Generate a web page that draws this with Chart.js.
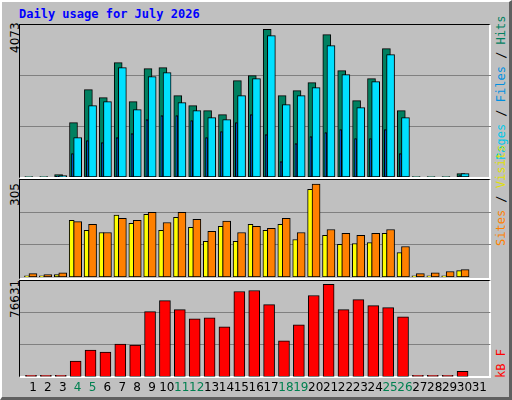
<!DOCTYPE html>
<html><head><meta charset="utf-8">
<script src="https://cdn.jsdelivr.net/npm/chart.js@4"></script>
<style>
html,body{margin:0;padding:0;background:#c0c0c0;}
#frame{position:absolute;left:0;top:0;width:512px;height:400px;box-sizing:border-box;border-top:2px solid #fff;border-left:2px solid #fff;border-right:3px solid #606060;border-bottom:3px solid #606060;background:#c0c0c0;}
.panel{position:absolute;left:19px;width:472px;box-sizing:border-box;border-top:1px solid #000;border-left:1px solid #000;border-right:2px solid #fff;border-bottom:2px solid #fff;}
canvas{position:absolute;}
.t{position:absolute;font-family:"DejaVu Sans Mono",monospace;font-size:11px;white-space:nowrap;}
.rot{transform-origin:0 0;transform:rotate(-90deg);}
</style></head><body>
<div id="frame"></div>
<div class="t" style="left:19px;top:7px;color:#0000ff;font-weight:bold;font-size:12px">Daily usage for July 2026</div>
<div class="panel" style="top:24px;height:155px"></div>
<div class="panel" style="top:179px;height:101px"></div>
<div class="panel" style="top:280px;height:98px"></div>
<div class="t rot" style="left:8px;top:53px;font-family:'DejaVu Sans';font-size:12px">4073</div>
<div class="t rot" style="left:8px;top:206px;font-family:'DejaVu Sans';font-size:12px">305</div>
<div class="t rot" style="left:8px;top:318px;font-family:'DejaVu Sans';font-size:12px">76631</div>
<div class="t rot" style="left:494px;top:160px;font-size:12px"><span style="color:#00c8e8">Pages</span><span style="color:#000"> / </span><span style="color:#0090e0">Files</span><span style="color:#000"> / </span><span style="color:#008060">Hits</span></div>
<div class="t rot" style="left:494px;top:246px;font-size:12px"><span style="color:#ff8000">Sites</span><span style="color:#000"> / </span><span style="color:#e0e000">Visits</span></div>
<div class="t rot" style="left:494px;top:378px;font-size:12px;color:#ff0000">kB F</div>
<canvas id="c1" width="471" height="152" style="left:20px;top:25px"></canvas>
<canvas id="c2" width="471" height="97" style="left:20px;top:180px"></canvas>
<canvas id="c3" width="471" height="118" style="left:20px;top:281px"></canvas>
<script>
const days=[1,2,3,4,5,6,7,8,9,10,11,12,13,14,15,16,17,18,19,20,21,22,23,24,25,26,27,28,29,30,31];
const weekend=[4,5,11,12,18,19,25,26];
const hits=[10,10,64,1500,2410,2190,3156,2080,2990,3018,2245,1969,1831,1720,2659,2797,4073,2245,2383,2604,3928,2935,2107,2714,3542,1831,10,10,10,92,0];
const pages=[0,0,40,1086,1969,2080,3018,1858,2769,2880,2052,1831,1638,1582,2245,2714,3901,1996,2245,2466,3625,2824,1914,2631,3376,1638,0,0,0,92,0];
const files=[0,0,20,644,1003,948,1086,1196,1582,1693,1693,1555,1086,1251,1500,1720,1168,423,920,1113,1224,1306,1058,1058,1306,644,0,0,0,40,0];
const visits=[4,4,8,186,153,146,203,176,206,153,196,163,117,166,117,173,153,173,123,288,137,107,110,113,143,80,4,4,4,21,0];
const sites=[11,8,14,182,173,146,193,186,212,179,212,189,150,184,146,166,160,193,146,305,156,143,137,143,156,100,11,14,18,24,0];
const kbytes=[1100,1100,1100,12866,22096,20418,27131,26292,53982,63212,55660,48108,48948,41396,70764,71603,59856,29648,43074,67408,76631,55660,64051,59017,57339,49787,1100,1100,1100,4475,0];
const XMIN=0.13, XMAX=31.74;
function pts(arr,off){return days.map((d,i)=>({x:d+off,y:arr[i]}));}
function ds(arr,off,color,w){return {data:pts(arr,off),backgroundColor:color,borderColor:'#000',borderWidth:1,barThickness:w,borderSkipped:false,grouped:false};}
function yScale(M){return {display:true,min:0,max:M,ticks:{display:false},border:{display:false},grid:{color:'#808080',drawTicks:false,lineWidth:1},afterBuildTicks:s=>{s.ticks=[{value:M/3},{value:2*M/3}];}};}
function xScale(show){return {type:'linear',min:XMIN,max:XMAX,display:show,offset:false,grid:{display:false,drawTicks:false},border:{display:false},
  afterBuildTicks:s=>{s.ticks=days.map(d=>({value:d}));},
  ticks:{padding:4,autoSkip:false,maxRotation:0,font:{family:'DejaVu Sans',size:12},color:c=>weekend.includes(c.tick&&c.tick.value)?'#008050':'#000',callback:v=>String(v)}};}
function opts(M,show){return {responsive:false,animation:false,events:[],layout:{padding:0},plugins:{legend:{display:false},tooltip:{enabled:false}},scales:{x:xScale(show),y:yScale(M)}};}
Chart.defaults.font.family='DejaVu Sans';
new Chart(document.getElementById('c1'),{type:'bar',data:{datasets:[
  ds(pages,0.0,'#00e0ff',8), ds(files,-0.35,'#0050ff',2), ds(hits,-0.28,'#008060',8)]},options:opts(4192,false)});
new Chart(document.getElementById('c2'),{type:'bar',data:{datasets:[
  ds(sites,0.0,'#ff8000',8), ds(visits,-0.4,'#ffff00',5)]},options:opts(318.5,false)});
new Chart(document.getElementById('c3'),{type:'bar',data:{datasets:[
  ds(kbytes,-0.13,'#ff0000',11)]},options:opts(79480,true)});
</script></body></html>
